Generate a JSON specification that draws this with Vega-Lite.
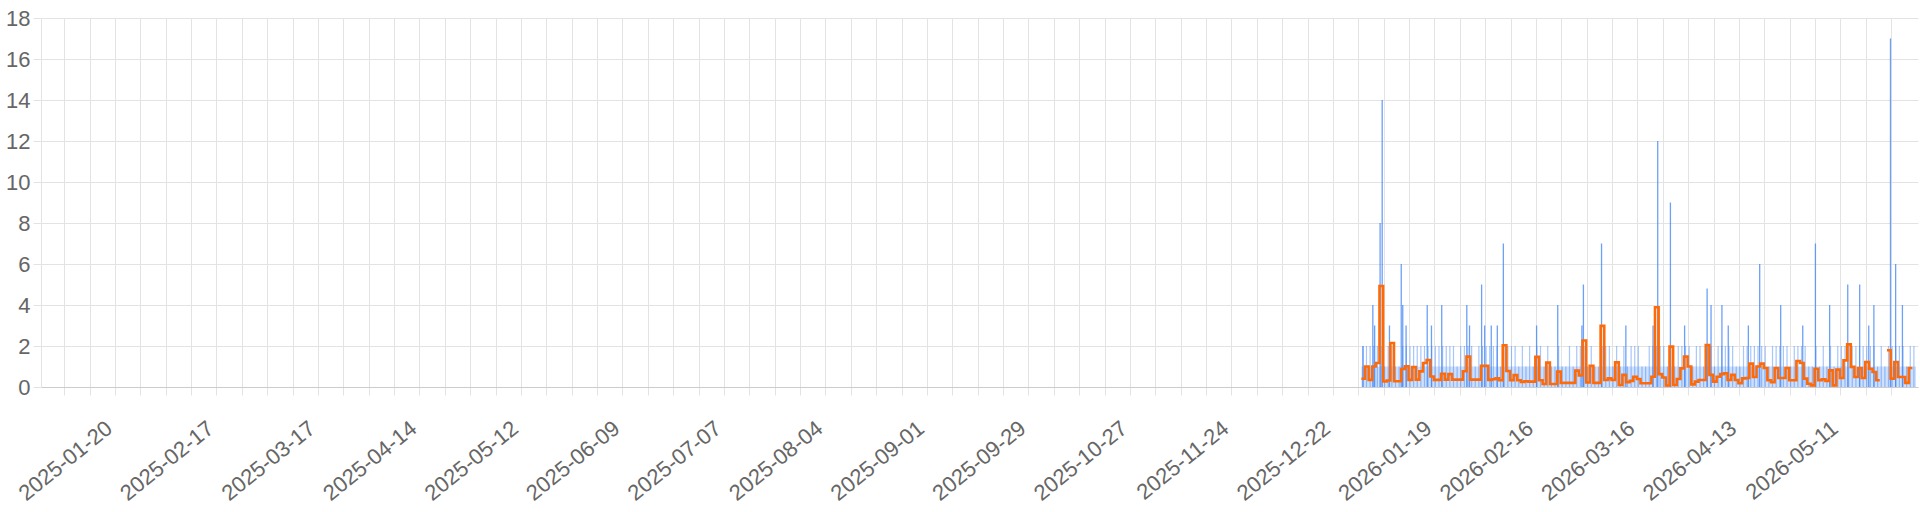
{
  "$schema": "https://vega.github.io/schema/vega-lite/v6.json",
  "width": 1877,
  "height": 369,
  "autosize": {"type": "none"},
  "padding": {"left": 41, "top": 18, "right": 2, "bottom": 125},
  "background": "white",
  "config": {
    "view": {"stroke": null},
    "axis": {
      "grid": true, "gridColor": "#e3e3e3", "tickColor": "#e3e3e3", "tickSize": 8,
      "labelColor": "#666666", "labelFont": "Liberation Sans",
      "title": null, "labelOverlap": false, "labelFlush": false, "labelBound": false
    }
  },
  "datasets": {
    "days": [
      {"t":"2025-12-29T20:00","a":0.4,"f":1,"m":2},
      {"t":"2025-12-30T20:00","a":1.0,"f":1,"m":2},
      {"t":"2025-12-31T20:00","a":0.35,"f":1,"m":2},
      {"t":"2026-01-01T20:00","a":1.0,"f":1,"m":2},
      {"t":"2026-01-02T20:00","a":1.17,"f":1,"m":2},
      {"t":"2026-01-03T20:00","a":4.93,"f":1,"m":2},
      {"t":"2026-01-04T20:00","a":0.27,"f":1,"m":1},
      {"t":"2026-01-05T20:00","a":0.32,"f":1,"m":2},
      {"t":"2026-01-06T20:00","a":2.15,"f":1,"m":2},
      {"t":"2026-01-07T20:00","a":0.28,"f":1,"m":1},
      {"t":"2026-01-08T20:00","a":0.28,"f":1,"m":1},
      {"t":"2026-01-09T20:00","a":0.88,"f":1,"m":2},
      {"t":"2026-01-10T20:00","a":1.01,"f":1,"m":2},
      {"t":"2026-01-11T20:00","a":0.35,"f":1,"m":2},
      {"t":"2026-01-12T20:00","a":0.97,"f":1,"m":2},
      {"t":"2026-01-13T20:00","a":0.36,"f":1,"m":2},
      {"t":"2026-01-14T20:00","a":0.76,"f":1,"m":2},
      {"t":"2026-01-15T20:00","a":1.17,"f":1,"m":2},
      {"t":"2026-01-16T20:00","a":1.32,"f":1,"m":2},
      {"t":"2026-01-17T20:00","a":0.51,"f":1,"m":2},
      {"t":"2026-01-18T20:00","a":0.35,"f":1,"m":2},
      {"t":"2026-01-19T20:00","a":0.35,"f":1,"m":2},
      {"t":"2026-01-20T20:00","a":0.65,"f":1,"m":2},
      {"t":"2026-01-21T20:00","a":0.36,"f":1,"m":2},
      {"t":"2026-01-22T20:00","a":0.63,"f":1,"m":2},
      {"t":"2026-01-23T20:00","a":0.36,"f":1,"m":2},
      {"t":"2026-01-24T20:00","a":0.36,"f":1,"m":1},
      {"t":"2026-01-25T20:00","a":0.36,"f":1,"m":2},
      {"t":"2026-01-26T20:00","a":0.77,"f":1,"m":2},
      {"t":"2026-01-27T20:00","a":1.48,"f":1,"m":2},
      {"t":"2026-01-28T20:00","a":0.36,"f":1,"m":2},
      {"t":"2026-01-29T20:00","a":0.36,"f":1,"m":1},
      {"t":"2026-01-30T20:00","a":0.36,"f":1,"m":2},
      {"t":"2026-01-31T20:00","a":1.03,"f":1,"m":2},
      {"t":"2026-02-01T20:00","a":1.03,"f":1,"m":2},
      {"t":"2026-02-02T20:00","a":0.35,"f":1,"m":2},
      {"t":"2026-02-03T20:00","a":0.38,"f":1,"m":2},
      {"t":"2026-02-04T20:00","a":0.42,"f":1,"m":2},
      {"t":"2026-02-05T20:00","a":0.33,"f":1,"m":1},
      {"t":"2026-02-06T20:00","a":2.04,"f":1,"m":2},
      {"t":"2026-02-07T20:00","a":0.78,"f":1,"m":2},
      {"t":"2026-02-08T20:00","a":0.33,"f":1,"m":2},
      {"t":"2026-02-09T20:00","a":0.58,"f":1,"m":2},
      {"t":"2026-02-10T20:00","a":0.33,"f":1,"m":1},
      {"t":"2026-02-11T20:00","a":0.25,"f":1,"m":2},
      {"t":"2026-02-12T20:00","a":0.28,"f":1,"m":1},
      {"t":"2026-02-13T20:00","a":0.26,"f":1,"m":2},
      {"t":"2026-02-14T20:00","a":0.26,"f":1,"m":1},
      {"t":"2026-02-15T20:00","a":1.47,"f":1,"m":2},
      {"t":"2026-02-16T20:00","a":0.33,"f":1,"m":2},
      {"t":"2026-02-17T20:00","a":0.15,"f":1,"m":1},
      {"t":"2026-02-18T20:00","a":1.19,"f":1,"m":2},
      {"t":"2026-02-19T20:00","a":0.15,"f":1,"m":1},
      {"t":"2026-02-20T20:00","a":0.15,"f":1,"m":1},
      {"t":"2026-02-21T20:00","a":0.75,"f":1,"m":2},
      {"t":"2026-02-22T20:00","a":0.2,"f":1,"m":1},
      {"t":"2026-02-23T20:00","a":0.2,"f":1,"m":1},
      {"t":"2026-02-24T20:00","a":0.2,"f":1,"m":2},
      {"t":"2026-02-25T20:00","a":0.2,"f":1,"m":1},
      {"t":"2026-02-26T20:00","a":0.8,"f":1,"m":2},
      {"t":"2026-02-27T20:00","a":0.56,"f":1,"m":2},
      {"t":"2026-02-28T20:00","a":2.27,"f":1,"m":2},
      {"t":"2026-03-01T20:00","a":0.22,"f":1,"m":1},
      {"t":"2026-03-02T20:00","a":1.03,"f":1,"m":2},
      {"t":"2026-03-03T20:00","a":0.2,"f":1,"m":1},
      {"t":"2026-03-04T20:00","a":0.2,"f":1,"m":1},
      {"t":"2026-03-05T20:00","a":2.98,"f":1,"m":2},
      {"t":"2026-03-06T20:00","a":0.34,"f":1,"m":2},
      {"t":"2026-03-07T20:00","a":0.42,"f":1,"m":2},
      {"t":"2026-03-08T20:00","a":0.34,"f":1,"m":1},
      {"t":"2026-03-09T20:00","a":1.2,"f":1,"m":2},
      {"t":"2026-03-10T20:00","a":0.1,"f":1,"m":1},
      {"t":"2026-03-11T20:00","a":0.59,"f":1,"m":2},
      {"t":"2026-03-12T20:00","a":0.23,"f":1,"m":1},
      {"t":"2026-03-13T20:00","a":0.3,"f":1,"m":2},
      {"t":"2026-03-14T20:00","a":0.5,"f":1,"m":2},
      {"t":"2026-03-15T20:00","a":0.39,"f":1,"m":2},
      {"t":"2026-03-16T20:00","a":0.18,"f":1,"m":1},
      {"t":"2026-03-17T20:00","a":0.18,"f":1,"m":1},
      {"t":"2026-03-18T20:00","a":0.18,"f":1,"m":2},
      {"t":"2026-03-19T20:00","a":0.5,"f":1,"m":2},
      {"t":"2026-03-20T20:00","a":3.89,"f":1,"m":2},
      {"t":"2026-03-21T20:00","a":0.63,"f":1,"m":2},
      {"t":"2026-03-22T20:00","a":0.46,"f":1,"m":2},
      {"t":"2026-03-23T20:00","a":0.07,"f":1,"m":1},
      {"t":"2026-03-24T20:00","a":1.97,"f":1,"m":2},
      {"t":"2026-03-25T20:00","a":0.1,"f":1,"m":1},
      {"t":"2026-03-26T20:00","a":0.39,"f":1,"m":2},
      {"t":"2026-03-27T20:00","a":0.91,"f":1,"m":2},
      {"t":"2026-03-28T20:00","a":1.48,"f":1,"m":2},
      {"t":"2026-03-29T20:00","a":1.0,"f":1,"m":2},
      {"t":"2026-03-30T20:00","a":0.13,"f":1,"m":1},
      {"t":"2026-03-31T20:00","a":0.26,"f":1,"m":2},
      {"t":"2026-04-01T20:00","a":0.34,"f":1,"m":2},
      {"t":"2026-04-02T20:00","a":0.34,"f":1,"m":1},
      {"t":"2026-04-03T20:00","a":2.05,"f":1,"m":2},
      {"t":"2026-04-04T20:00","a":0.59,"f":1,"m":2},
      {"t":"2026-04-05T20:00","a":0.26,"f":1,"m":1},
      {"t":"2026-04-06T20:00","a":0.5,"f":1,"m":2},
      {"t":"2026-04-07T20:00","a":0.63,"f":1,"m":2},
      {"t":"2026-04-08T20:00","a":0.67,"f":1,"m":2},
      {"t":"2026-04-09T20:00","a":0.34,"f":1,"m":2},
      {"t":"2026-04-10T20:00","a":0.59,"f":1,"m":2},
      {"t":"2026-04-11T20:00","a":0.34,"f":1,"m":1},
      {"t":"2026-04-12T20:00","a":0.18,"f":1,"m":1},
      {"t":"2026-04-13T20:00","a":0.42,"f":1,"m":2},
      {"t":"2026-04-14T20:00","a":0.44,"f":1,"m":2},
      {"t":"2026-04-15T20:00","a":1.14,"f":1,"m":2},
      {"t":"2026-04-16T20:00","a":0.49,"f":1,"m":2},
      {"t":"2026-04-17T20:00","a":1.0,"f":1,"m":2},
      {"t":"2026-04-18T20:00","a":1.14,"f":1,"m":2},
      {"t":"2026-04-19T20:00","a":0.93,"f":1,"m":2},
      {"t":"2026-04-20T20:00","a":0.33,"f":1,"m":1},
      {"t":"2026-04-21T20:00","a":0.24,"f":1,"m":2},
      {"t":"2026-04-22T20:00","a":0.93,"f":1,"m":2},
      {"t":"2026-04-23T20:00","a":0.44,"f":1,"m":2},
      {"t":"2026-04-24T20:00","a":0.44,"f":1,"m":2},
      {"t":"2026-04-25T20:00","a":0.93,"f":1,"m":2},
      {"t":"2026-04-26T20:00","a":0.33,"f":1,"m":1},
      {"t":"2026-04-27T20:00","a":0.33,"f":1,"m":2},
      {"t":"2026-04-28T20:00","a":1.27,"f":1,"m":2},
      {"t":"2026-04-29T20:00","a":1.17,"f":1,"m":2},
      {"t":"2026-04-30T20:00","a":0.41,"f":1,"m":2},
      {"t":"2026-05-01T20:00","a":0.16,"f":1,"m":1},
      {"t":"2026-05-02T20:00","a":0.08,"f":1,"m":1},
      {"t":"2026-05-03T20:00","a":0.89,"f":1,"m":2},
      {"t":"2026-05-04T20:00","a":0.33,"f":1,"m":1},
      {"t":"2026-05-05T20:00","a":0.38,"f":1,"m":2},
      {"t":"2026-05-06T20:00","a":0.3,"f":1,"m":1},
      {"t":"2026-05-07T20:00","a":0.81,"f":1,"m":2},
      {"t":"2026-05-08T20:00","a":0.08,"f":1,"m":1},
      {"t":"2026-05-09T20:00","a":0.85,"f":1,"m":2},
      {"t":"2026-05-10T20:00","a":0.44,"f":1,"m":2},
      {"t":"2026-05-11T20:00","a":1.3,"f":1,"m":2},
      {"t":"2026-05-12T20:00","a":2.08,"f":1,"m":2},
      {"t":"2026-05-13T20:00","a":0.98,"f":1,"m":2},
      {"t":"2026-05-14T20:00","a":0.49,"f":1,"m":2},
      {"t":"2026-05-15T20:00","a":0.93,"f":1,"m":2},
      {"t":"2026-05-16T20:00","a":0.44,"f":1,"m":2},
      {"t":"2026-05-17T20:00","a":1.22,"f":1,"m":2},
      {"t":"2026-05-18T20:00","a":0.89,"f":1,"m":2},
      {"t":"2026-05-19T20:00","a":0.73,"f":1,"m":2},
      {"t":"2026-05-20T20:00","a":0.33,"f":1,"m":1},
      {"t":"2026-05-21T20:00","a":0.33,"f":1,"m":2},
      {"t":"2026-05-22T20:00","a":null,"f":1,"m":1},
      {"t":"2026-05-23T20:00","a":1.79,"f":1,"m":2},
      {"t":"2026-05-24T20:00","a":0.41,"f":1,"m":2},
      {"t":"2026-05-25T20:00","a":1.22,"f":1,"m":2},
      {"t":"2026-05-26T20:00","a":0.49,"f":1,"m":2},
      {"t":"2026-05-27T20:00","a":0.49,"f":1,"m":2},
      {"t":"2026-05-28T20:00","a":0.2,"f":1,"m":1},
      {"t":"2026-05-29T20:00","a":0.93,"f":1,"m":2},
      {"t":"2026-05-30T20:00","a":0.93,"f":1,"m":2}
    ],
    "spikes": [
      {"t":"2025-12-30T07:00","v":2},
      {"t":"2026-01-02T00:00","v":4},
      {"t":"2026-01-02T12:00","v":3},
      {"t":"2026-01-04T00:00","v":8},
      {"t":"2026-01-04T14:00","v":14},
      {"t":"2026-01-06T14:00","v":3},
      {"t":"2026-01-09T20:00","v":6},
      {"t":"2026-01-10T06:00","v":4},
      {"t":"2026-01-11T04:00","v":3},
      {"t":"2026-01-17T00:00","v":4},
      {"t":"2026-01-18T04:00","v":3},
      {"t":"2026-01-21T00:00","v":4},
      {"t":"2026-01-27T22:00","v":4},
      {"t":"2026-01-28T16:00","v":3},
      {"t":"2026-02-01T00:00","v":5},
      {"t":"2026-02-01T20:00","v":3},
      {"t":"2026-02-03T16:00","v":3},
      {"t":"2026-02-05T08:00","v":3},
      {"t":"2026-02-07T00:00","v":7},
      {"t":"2026-02-16T04:00","v":3},
      {"t":"2026-02-22T00:00","v":4},
      {"t":"2026-02-28T16:00","v":3},
      {"t":"2026-03-01T02:00","v":5},
      {"t":"2026-03-06T02:00","v":7},
      {"t":"2026-03-12T19:00","v":3},
      {"t":"2026-03-20T07:00","v":3},
      {"t":"2026-03-21T14:00","v":12},
      {"t":"2026-03-25T02:00","v":9},
      {"t":"2026-03-29T00:00","v":3},
      {"t":"2026-04-04T05:00","v":4.8},
      {"t":"2026-04-05T07:00","v":4},
      {"t":"2026-04-08T07:00","v":4},
      {"t":"2026-04-10T01:00","v":3},
      {"t":"2026-04-15T14:00","v":3},
      {"t":"2026-04-18T17:00","v":6},
      {"t":"2026-04-24T12:00","v":4},
      {"t":"2026-04-30T14:00","v":3},
      {"t":"2026-05-04T02:00","v":7},
      {"t":"2026-05-08T00:00","v":4},
      {"t":"2026-05-13T00:00","v":5},
      {"t":"2026-05-16T07:00","v":5},
      {"t":"2026-05-18T19:00","v":3},
      {"t":"2026-05-20T05:00","v":4},
      {"t":"2026-05-24T19:00","v":17},
      {"t":"2026-05-26T05:00","v":6},
      {"t":"2026-05-28T02:00","v":4}
    ]
  },
  "encoding": {
    "x": {
      "field": "t", "type": "temporal",
      "scale": {"domain": [{"year": 2025, "month": 1, "date": 1}, {"year": 2026, "month": 5, "date": 31}]},
      "axis": {
        "values": [
          {"year":2025,"month":1,"date":6},{"year":2025,"month":1,"date":13},{"year":2025,"month":1,"date":20},{"year":2025,"month":1,"date":27},
          {"year":2025,"month":2,"date":3},{"year":2025,"month":2,"date":10},{"year":2025,"month":2,"date":17},{"year":2025,"month":2,"date":24},
          {"year":2025,"month":3,"date":3},{"year":2025,"month":3,"date":10},{"year":2025,"month":3,"date":17},{"year":2025,"month":3,"date":24},{"year":2025,"month":3,"date":31},
          {"year":2025,"month":4,"date":7},{"year":2025,"month":4,"date":14},{"year":2025,"month":4,"date":21},{"year":2025,"month":4,"date":28},
          {"year":2025,"month":5,"date":5},{"year":2025,"month":5,"date":12},{"year":2025,"month":5,"date":19},{"year":2025,"month":5,"date":26},
          {"year":2025,"month":6,"date":2},{"year":2025,"month":6,"date":9},{"year":2025,"month":6,"date":16},{"year":2025,"month":6,"date":23},{"year":2025,"month":6,"date":30},
          {"year":2025,"month":7,"date":7},{"year":2025,"month":7,"date":14},{"year":2025,"month":7,"date":21},{"year":2025,"month":7,"date":28},
          {"year":2025,"month":8,"date":4},{"year":2025,"month":8,"date":11},{"year":2025,"month":8,"date":18},{"year":2025,"month":8,"date":25},
          {"year":2025,"month":9,"date":1},{"year":2025,"month":9,"date":8},{"year":2025,"month":9,"date":15},{"year":2025,"month":9,"date":22},{"year":2025,"month":9,"date":29},
          {"year":2025,"month":10,"date":6},{"year":2025,"month":10,"date":13},{"year":2025,"month":10,"date":20},{"year":2025,"month":10,"date":27},
          {"year":2025,"month":11,"date":3},{"year":2025,"month":11,"date":10},{"year":2025,"month":11,"date":17},{"year":2025,"month":11,"date":24},
          {"year":2025,"month":12,"date":1},{"year":2025,"month":12,"date":8},{"year":2025,"month":12,"date":15},{"year":2025,"month":12,"date":22},{"year":2025,"month":12,"date":29},
          {"year":2026,"month":1,"date":5},{"year":2026,"month":1,"date":12},{"year":2026,"month":1,"date":19},{"year":2026,"month":1,"date":26},
          {"year":2026,"month":2,"date":2},{"year":2026,"month":2,"date":9},{"year":2026,"month":2,"date":16},{"year":2026,"month":2,"date":23},
          {"year":2026,"month":3,"date":2},{"year":2026,"month":3,"date":9},{"year":2026,"month":3,"date":16},{"year":2026,"month":3,"date":23},{"year":2026,"month":3,"date":30},
          {"year":2026,"month":4,"date":6},{"year":2026,"month":4,"date":13},{"year":2026,"month":4,"date":20},{"year":2026,"month":4,"date":27},
          {"year":2026,"month":5,"date":4},{"year":2026,"month":5,"date":11},{"year":2026,"month":5,"date":18},{"year":2026,"month":5,"date":25}
        ],
        "labelExpr": "(round((datum.value - datetime(2025,0,20)) / 604800000) % 4 == 0) ? timeFormat(datum.value, '%Y-%m-%d') : ''",
        "labelAngle": -39, "labelAlign": "right", "labelBaseline": "middle", "labelPadding": 30, "labelOffset": -6,
        "labelFontSize": 22,
        "domainColor": "#cccccc"
      }
    }
  },
  "layer": [
    {
      "data": {"name": "days"},
      "mark": {"type": "bar", "width": 3.64, "xOffset": 1.82, "color": "#3b82f6", "opacity": 0.25, "clip": true},
      "encoding": {
        "y": {"field": "f", "type": "quantitative", "scale": {"domain": [0, 18], "nice": false},
              "axis": {"values": [0,2,4,6,8,10,12,14,16,18], "labelPadding": 3, "labelFontSize": 22, "domain": true, "domainColor": "#e3e3e3"}}
      }
    },
    {
      "data": {"name": "days"},
      "mark": {"type": "bar", "width": 1.2, "xOffset": 1.5, "color": "#3b82f6", "opacity": 0.45, "clip": true},
      "encoding": {
        "y": {"field": "m", "type": "quantitative"}
      }
    },
    {
      "data": {"name": "spikes"},
      "mark": {"type": "bar", "width": 1.3, "color": "#3b82f6", "opacity": 0.75, "clip": true},
      "encoding": {
        "y": {"field": "v", "type": "quantitative"}
      }
    },
    {
      "data": {"name": "days"},
      "mark": {"type": "line", "interpolate": "step-after", "color": "#ff6a08", "strokeWidth": 2.6, "clip": true, "invalid": "break-paths-filter-domains"},
      "encoding": {
        "y": {"field": "a", "type": "quantitative"}
      }
    }
  ]
}
